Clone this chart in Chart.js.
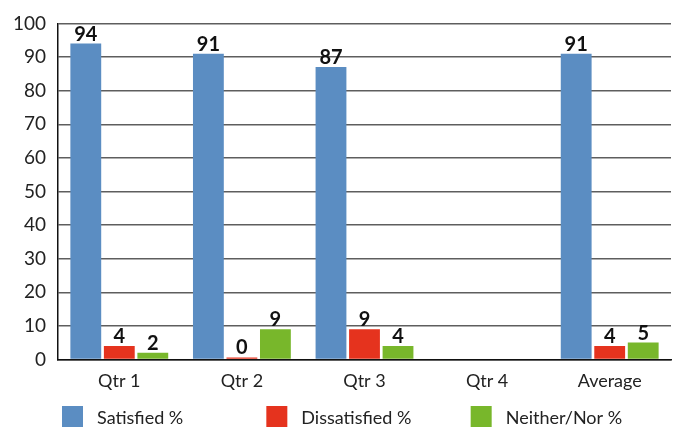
<!DOCTYPE html>
<html>
<head>
<meta charset="utf-8">
<script src="https://cdn.jsdelivr.net/npm/chart.js@4/dist/chart.umd.min.js"></script>
<style>
  html, body { margin: 0; padding: 0; background: #fff; }
  #wrap { width: 679px; height: 428px; position: relative; }
</style>
</head>
<body>
<div id="wrap"><canvas id="chart"></canvas></div>
<script>
// survey results per quarter
const categories = ['Qtr 1', 'Qtr 2', 'Qtr 3', 'Qtr 4', 'Average'];
const satisfied = [94, 91, 87, null, 91];
const dissatisfied = [4, 0, 9, null, 4];
const neither = [2, 9, 4, null, 5];
const yTicks = [0, 10, 20, 30, 40, 50, 60, 70, 80, 90, 100];

const FONT = 'Lato, "DejaVu Sans", sans-serif';

// bold value labels above each bar
const valueLabels = {
  id: 'valueLabels',
  afterDatasetsDraw(chart) {
    const ctx = chart.ctx;
    ctx.save();
    ctx.font = 'bold 20px ' + FONT;
    ctx.fillStyle = '#111';
    ctx.textAlign = 'center';
    ctx.textBaseline = 'alphabetic';
    chart.data.datasets.forEach((ds, i) => {
      chart.getDatasetMeta(i).data.forEach((bar, j) => {
        const v = ds.data[j];
        if (v === null || v === undefined) return;
        ctx.fillText(String(v), bar.x, bar.y - 3);
      });
    });
    ctx.restore();
  }
};

// legend laid out in three equal slots under the plot
const slotLegend = {
  id: 'slotLegend',
  afterDraw(chart) {
    const ctx = chart.ctx;
    const area = chart.chartArea;
    const slot = (area.right - area.left) / 3;
    ctx.save();
    ctx.font = '18px ' + FONT;
    ctx.textBaseline = 'middle';
    ctx.textAlign = 'left';
    chart.data.datasets.forEach((ds, i) => {
      const x = area.left + 4 + i * slot;
      const y = 406;
      ctx.fillStyle = ds.backgroundColor;
      ctx.fillRect(x, y, 21, 21);
      ctx.fillStyle = '#222';
      ctx.fillText(ds.label, x + 35, y + 12);
    });
    ctx.restore();
  }
};

new Chart(document.getElementById('chart'), {
  type: 'bar',
  data: {
    labels: categories,
    datasets: [
      { label: 'Satisfied %', data: satisfied, backgroundColor: '#5B8DC2' },
      { label: 'Dissatisfied %', data: dissatisfied, backgroundColor: '#E5331E' },
      { label: 'Neither/Nor %', data: neither, backgroundColor: '#78B72B' }
    ]
  },
  options: {
    responsive: true,
    maintainAspectRatio: false,
    animation: false,
    layout: { padding: { top: 10, right: 8, bottom: 25, left: 0 } },
    datasets: {
      bar: { categoryPercentage: 0.82, barPercentage: 0.92, minBarLength: 2 }
    },
    plugins: {
      legend: { display: false },
      tooltip: { enabled: false }
    },
    scales: {
      x: {
        grid: { display: false, drawTicks: false },
        border: { color: '#111', width: 1.5 },
        ticks: { color: '#222', font: { family: FONT, size: 18 }, padding: 11 }
      },
      y: {
        min: 0,
        max: 100,
        afterFit(scale) { scale.width = 58; },
        afterBuildTicks(scale) { scale.ticks = yTicks.map(v => ({ value: v })); },
        grid: { color: '#5e5e5e', lineWidth: 1.4, drawTicks: false },
        border: { color: '#111', width: 1.5 },
        ticks: { color: '#222', font: { family: FONT, size: 19 }, padding: 12 }
      }
    }
  },
  plugins: [valueLabels, slotLegend]
});
</script>
</body>
</html>
